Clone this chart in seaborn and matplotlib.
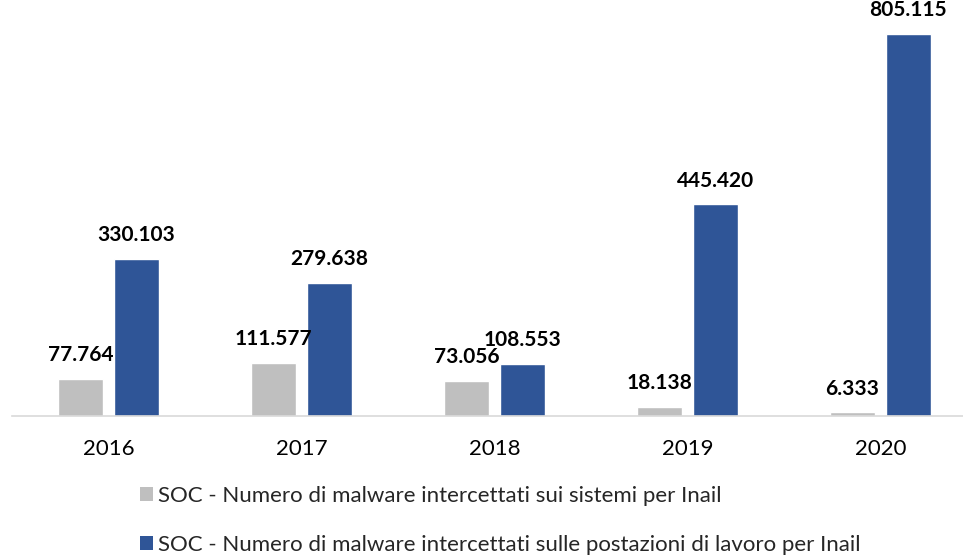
import matplotlib
matplotlib.use("Agg")
import matplotlib.pyplot as plt
import seaborn as sns
import pandas as pd
from matplotlib.patches import Patch

years = ["2016", "2017", "2018", "2019", "2020"]
sistemi = [77764, 111577, 73056, 18138, 6333]
postazioni = [330103, 279638, 108553, 445420, 805115]
series_names = [
    "SOC - Numero di malware intercettati sui sistemi per Inail",
    "SOC - Numero di malware intercettati sulle postazioni di lavoro per Inail",
]
colors = ["#BFBFBF", "#2F5597"]

df = pd.DataFrame({
    "anno": years * 2,
    "valore": sistemi + postazioni,
    "serie": [series_names[0]] * len(years) + [series_names[1]] * len(years),
})

sns.set_theme(style="white")
plt.rcParams["font.family"] = ["Lato", "DejaVu Sans"]

W, H = 963, 555
fig = plt.figure(figsize=(W / 100, H / 100), dpi=100)
base_y = 415.5
ax = fig.add_axes([12 / W, (H - base_y) / H, (W - 12) / W, base_y / H])

sns.barplot(data=df, x="anno", y="valore", hue="serie", palette=colors,
            width=0.58, gap=0.2, ax=ax, legend=False, saturation=1)

for cont in ax.containers:
    ax.bar_label(cont, labels=[f"{v:,.0f}".replace(",", ".") for v in cont.datavalues],
                 padding=10, fontsize=15, fontweight="bold", color="black")

ax.set_ylim(0, 876900)
ax.set_xlim(-0.5, 4.428)
ax.set_xlabel("")
ax.set_ylabel("")
ax.set_yticks([])
ax.tick_params(axis="x", length=0, labelsize=16, pad=17, colors="black")
for s in ["top", "left", "right"]:
    ax.spines[s].set_visible(False)
ax.spines["bottom"].set_color("#D9D9D9")
ax.spines["bottom"].set_linewidth(1.2)

handles = [Patch(facecolor=c, edgecolor="none") for c in colors]
fig.legend(handles, series_names, loc="upper left",
           bbox_to_anchor=(131 / W, 1 - 477 / H), frameon=False,
           fontsize=16, labelspacing=1.3, handlelength=0.6, handleheight=0.6,
           handletextpad=0.2, borderaxespad=0)

fig.savefig("out.png", dpi=100)
